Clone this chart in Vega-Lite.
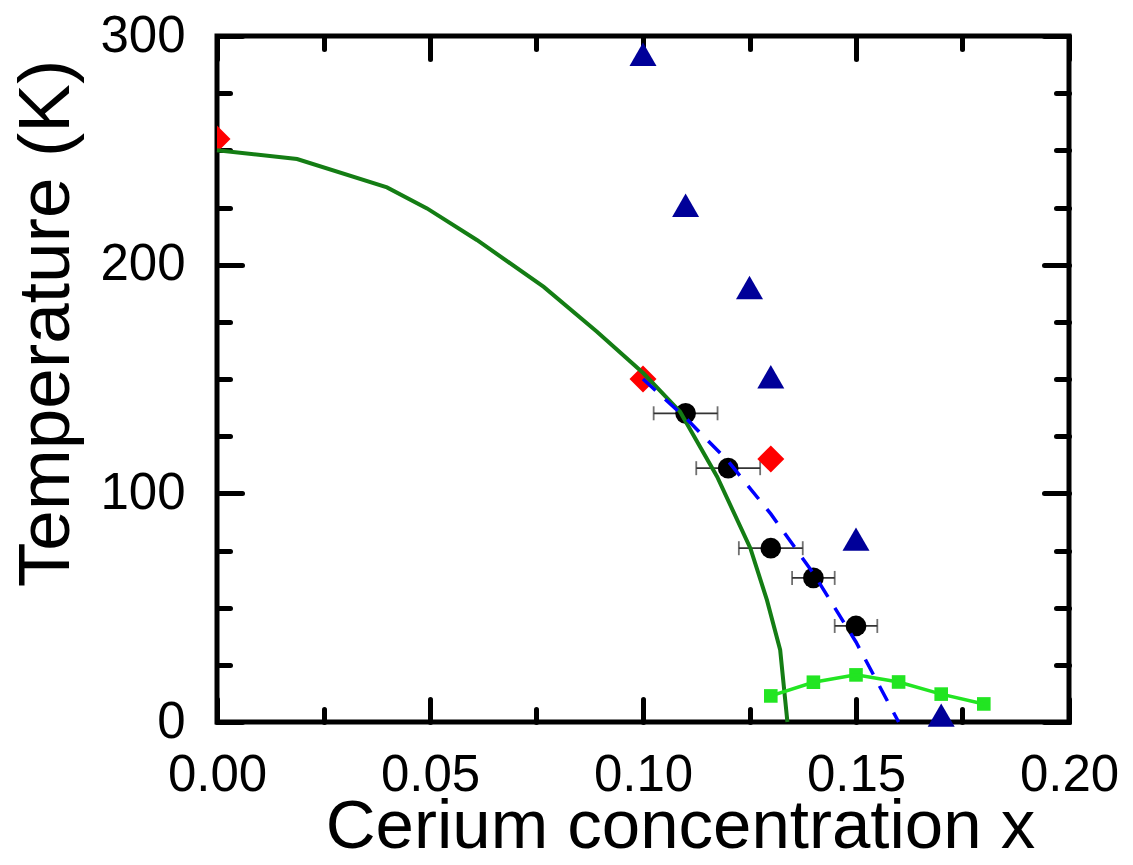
{
  "$schema": "https://vega.github.io/schema/vega-lite/v6.json",
  "width": 852,
  "height": 686,
  "autosize": {"type": "none"},
  "padding": {"left": 217, "top": 36, "right": 64, "bottom": 143},
  "background": "white",
  "config": {
    "view": {"stroke": "black", "strokeWidth": 5},
    "axis": {
      "domain": false,
      "grid": false,
      "tickColor": "black",
      "tickWidth": 5,
      "tickCap": "round",
      "labelFont": "Liberation Sans",
      "labelFontSize": 51,
      "labelColor": "black",
      "labelFlush": false,
      "labelOverlap": false,
      "labelBound": false,
      "titleFont": "Liberation Sans",
      "titleFontWeight": "normal",
      "titleColor": "black"
    }
  },
  "datasets": {
    "curve": [
      {"x": 0, "T": 250}, {"x": 0.0188, "T": 246.2}, {"x": 0.0399, "T": 233.8},
      {"x": 0.0493, "T": 224.6}, {"x": 0.061, "T": 210.8}, {"x": 0.0767, "T": 190.3},
      {"x": 0.0892, "T": 170.7}, {"x": 0.1001, "T": 152.5}, {"x": 0.1087, "T": 135.7},
      {"x": 0.1174, "T": 107.3}, {"x": 0.1252, "T": 76}, {"x": 0.1291, "T": 53.3},
      {"x": 0.1322, "T": 31.5}, {"x": 0.1339, "T": 0}
    ],
    "dash": [
      {"x": 0.10, "T": 150}, {"x": 0.11, "T": 133}, {"x": 0.12, "T": 114},
      {"x": 0.13, "T": 91}, {"x": 0.14, "T": 65}, {"x": 0.15, "T": 35}, {"x": 0.16, "T": 0}
    ],
    "circles": [
      {"x": 0.11, "T": 135, "xlo": 0.1025, "xhi": 0.1175},
      {"x": 0.12, "T": 111, "xlo": 0.1125, "xhi": 0.1275},
      {"x": 0.13, "T": 76, "xlo": 0.1225, "xhi": 0.1375},
      {"x": 0.14, "T": 63, "xlo": 0.135, "xhi": 0.145},
      {"x": 0.15, "T": 42, "xlo": 0.145, "xhi": 0.155}
    ],
    "tri": [
      {"x": 0.10, "T": 292}, {"x": 0.11, "T": 226}, {"x": 0.125, "T": 190},
      {"x": 0.13, "T": 151}, {"x": 0.15, "T": 80}, {"x": 0.17, "T": 3}
    ],
    "dia": [
      {"x": 0, "T": 255}, {"x": 0.10, "T": 150}, {"x": 0.13, "T": 115}
    ],
    "sq": [
      {"x": 0.13, "T": 11.4}, {"x": 0.14, "T": 17.4}, {"x": 0.15, "T": 20.6},
      {"x": 0.16, "T": 17.5}, {"x": 0.17, "T": 12.2}, {"x": 0.18, "T": 7.9}
    ]
  },
  "resolve": {"axis": {"x": "independent", "y": "independent"}},
  "layer": [
    {
      "data": {"name": "circles"},
      "mark": {"type": "rule", "color": "#333333", "strokeWidth": 1.8},
      "encoding": {
        "x": {
          "field": "xlo", "type": "quantitative",
          "scale": {"domain": [0, 0.2], "nice": false, "zero": false},
          "axis": {
            "orient": "bottom",
            "values": [0, 0.025, 0.05, 0.075, 0.1, 0.125, 0.15, 0.175, 0.2],
            "tickSize": {"condition": {"test": "round(datum.value*40) % 2 == 0", "value": -23}, "value": -13},
            "labelExpr": "round(datum.value*40) % 2 == 0 ? format(datum.value, '.2f') : ''",
            "labelPadding": 51,
            "title": "Cerium concentration x",
            "titleFontSize": 69,
            "titleX": 463,
            "titleY": 125,
            "titleAlign": "center",
            "titleBaseline": "alphabetic",
            "titleAnchor": null
          }
        },
        "x2": {"field": "xhi"},
        "y": {
          "field": "T", "type": "quantitative",
          "scale": {"domain": [0, 300], "nice": false, "zero": false},
          "axis": {
            "orient": "left",
            "values": [0, 25, 50, 75, 100, 125, 150, 175, 200, 225, 250, 275, 300],
            "tickSize": {"condition": {"test": "datum.value % 100 == 0", "value": -25}, "value": -13},
            "labelExpr": "datum.value % 100 == 0 ? datum.label : ''",
            "labelPadding": 57,
            "title": "Temperature (K)",
            "titleFontSize": 73,
            "titleAngle": 270,
            "titleX": -149,
            "titleY": 287,
            "titleAlign": "center",
            "titleBaseline": "alphabetic",
            "titleAnchor": null
          }
        }
      }
    },
    {
      "data": {"name": "circles"},
      "mark": {"type": "tick", "orient": "vertical", "size": 14, "thickness": 1.8, "color": "#333333"},
      "encoding": {
        "x": {
          "field": "xlo", "type": "quantitative",
          "scale": {"domain": [0, 0.2], "nice": false, "zero": false},
          "axis": {
            "orient": "top",
            "values": [0, 0.025, 0.05, 0.075, 0.1, 0.125, 0.15, 0.175, 0.2],
            "tickSize": {"condition": {"test": "round(datum.value*40) % 2 == 0", "value": -23}, "value": -13},
            "labels": false,
            "title": null
          }
        },
        "y": {
          "field": "T", "type": "quantitative",
          "scale": {"domain": [0, 300], "nice": false, "zero": false},
          "axis": {
            "orient": "right",
            "values": [0, 25, 50, 75, 100, 125, 150, 175, 200, 225, 250, 275, 300],
            "tickSize": {"condition": {"test": "datum.value % 100 == 0", "value": -25}, "value": -13},
            "labels": false,
            "title": null
          }
        }
      }
    },
    {
      "data": {"name": "circles"},
      "mark": {"type": "tick", "orient": "vertical", "size": 14, "thickness": 1.8, "color": "#333333"},
      "encoding": {
        "x": {"field": "xhi", "type": "quantitative", "axis": null},
        "y": {"field": "T", "type": "quantitative", "axis": null}
      }
    },
    {
      "data": {"name": "circles"},
      "mark": {"type": "point", "shape": "circle", "filled": true, "size": 430, "color": "black", "opacity": 1},
      "encoding": {
        "x": {"field": "x", "type": "quantitative", "axis": null},
        "y": {"field": "T", "type": "quantitative", "axis": null}
      }
    },
    {
      "data": {"name": "tri"},
      "mark": {"type": "point", "shape": "triangle-up", "filled": true, "size": 729, "color": "#000099", "opacity": 1},
      "encoding": {
        "x": {"field": "x", "type": "quantitative", "axis": null},
        "y": {"field": "T", "type": "quantitative", "axis": null}
      }
    },
    {
      "data": {"name": "dia"},
      "mark": {"type": "point", "shape": "diamond", "filled": true, "size": 729, "color": "#ff0000", "opacity": 1, "clip": true},
      "encoding": {
        "x": {"field": "x", "type": "quantitative", "axis": null},
        "y": {"field": "T", "type": "quantitative", "axis": null}
      }
    },
    {
      "data": {"name": "sq"},
      "mark": {"type": "point", "shape": "square", "filled": true, "size": 185, "color": "#22e522", "opacity": 1},
      "encoding": {
        "x": {"field": "x", "type": "quantitative", "axis": null},
        "y": {"field": "T", "type": "quantitative", "axis": null}
      }
    },
    {
      "data": {"name": "curve"},
      "mark": {"type": "line", "color": "#147d14", "strokeWidth": 4},
      "encoding": {
        "x": {"field": "x", "type": "quantitative", "axis": null},
        "y": {"field": "T", "type": "quantitative", "axis": null}
      }
    },
    {
      "data": {"name": "dash"},
      "mark": {"type": "line", "color": "#0000ff", "strokeWidth": 3.5, "strokeDash": [17, 13]},
      "encoding": {
        "x": {"field": "x", "type": "quantitative", "axis": null},
        "y": {"field": "T", "type": "quantitative", "axis": null}
      }
    },
    {
      "data": {"name": "sq"},
      "mark": {"type": "line", "color": "#22e522", "strokeWidth": 3.5},
      "encoding": {
        "x": {"field": "x", "type": "quantitative", "axis": null},
        "y": {"field": "T", "type": "quantitative", "axis": null}
      }
    }
  ]
}
